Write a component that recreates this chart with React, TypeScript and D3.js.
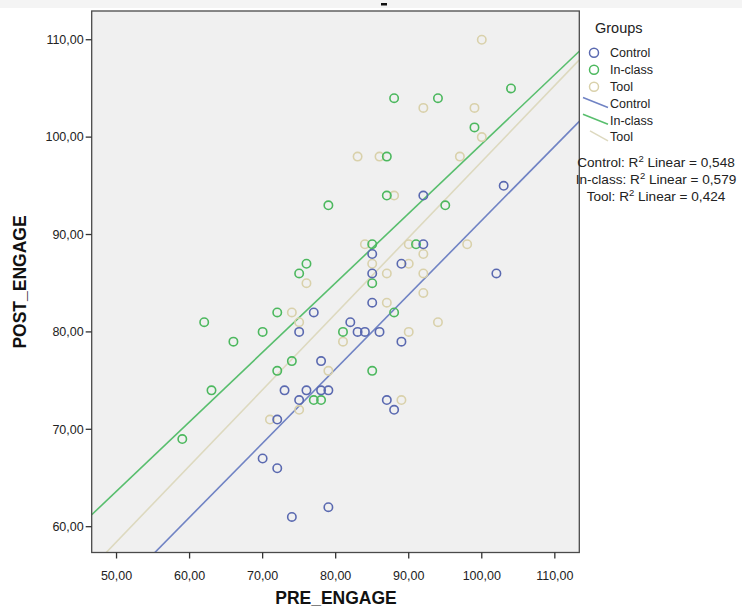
import * as d3 from "d3"
import React from "react"

const groups = ["Control", "In-class", "Tool"]
const controlPre = [92, 103, 92, 89, 85, 85, 102, 85, 77, 82, 75, 83, 84, 86, 89, 78, 73, 76, 78, 79, 75, 87, 88, 72, 70, 72, 79, 74]
const controlPost = [94, 95, 89, 87, 88, 86, 86, 83, 82, 81, 80, 80, 80, 80, 79, 77, 74, 74, 74, 74, 73, 73, 72, 71, 67, 66, 62, 61]
const inclassPre = [104, 88, 94, 99, 87, 79, 87, 95, 85, 91, 76, 75, 85, 72, 88, 62, 70, 81, 66, 74, 72, 85, 63, 77, 78, 59]
const inclassPost = [105, 104, 104, 101, 98, 93, 94, 93, 89, 89, 87, 86, 85, 82, 82, 81, 80, 80, 79, 77, 76, 76, 74, 73, 73, 69]
const toolPre = [100, 92, 99, 100, 83, 86, 97, 88, 84, 90, 98, 85, 90, 92, 87, 92, 76, 92, 87, 74, 75, 94, 90, 81, 79, 89, 75, 71]
const toolPost = [110, 103, 103, 100, 98, 98, 98, 94, 89, 89, 89, 87, 87, 88, 86, 86, 85, 84, 83, 82, 81, 81, 80, 79, 76, 73, 72, 71]
const fitSlope = [0.762, 0.713, 0.781]
const fitIntercept = [15.25, 28.0, 19.4]
const rSquared = ["0,548", "0,579", "0,424"]
const xTicks = [50, 60, 70, 80, 90, 100, 110]
const yTicks = [60, 70, 80, 90, 100, 110]

const pointColors = ["#5a69b0", "#4cb85e", "#d9d1ab"]
const lineColors = ["#7083c4", "#58be6d", "#ddd9bf"]
const font = "'Liberation Sans', Arial, sans-serif"

const W = 742
const H = 614
const plot = { left: 91.7, right: 579.3, top: 11, bottom: 552.5 }

export default function App() {
  const x = d3.scaleLinear().domain([46.6, 113.35]).range([plot.left, plot.right])
  const y = d3.scaleLinear().domain([57.35, 112.95]).range([plot.bottom, plot.top])
  const fmt = (v: number) => v.toFixed(2).replace(".", ",")

  const series = [
    { pre: controlPre, post: controlPost },
    { pre: inclassPre, post: inclassPost },
    { pre: toolPre, post: toolPost },
  ]
  const [x0, x1] = x.domain()

  return (
    <svg width={W} height={H} style={{ position: "absolute", left: 0, top: 0, background: "#fff" }} fontFamily={font}>
      <defs>
        <clipPath id="plotClip">
          <rect x={plot.left} y={plot.top} width={plot.right - plot.left} height={plot.bottom - plot.top} />
        </clipPath>
      </defs>
      {/* faint band at top of screenshot */}
      <rect x={0} y={0} width={W} height={8} fill="#f4f4f4" />
      <rect x={381} y={3} width={6} height={2.5} fill="#111" />

      <rect x={plot.left} y={plot.top} width={plot.right - plot.left} height={plot.bottom - plot.top} fill="#f0f0f0" />

      <g clipPath="url(#plotClip)">
        {series.map((s, g) => (
          <line
            key={"fit" + g}
            x1={x(x0)} y1={y(fitIntercept[g] + fitSlope[g] * x0)}
            x2={x(x1)} y2={y(fitIntercept[g] + fitSlope[g] * x1)}
            stroke={lineColors[g]} strokeWidth={1.6}
          />
        ))}
        {[2, 1, 0].map(g =>
          series[g].pre.map((p, i) => (
            <circle key={g + "-" + i} cx={x(p)} cy={y(series[g].post[i])} r={4.2}
              fill="none" stroke={pointColors[g]} strokeWidth={1.6} />
          ))
        )}
      </g>

      <rect x={plot.left} y={plot.top} width={plot.right - plot.left} height={plot.bottom - plot.top}
        fill="none" stroke="#4a4a4a" strokeWidth={1.3} />

      {yTicks.map(t => (
        <g key={"y" + t} transform={`translate(0,${y(t)})`}>
          <line x1={plot.left - 6} x2={plot.left} stroke="#333" strokeWidth={1.3} />
          <text x={plot.left - 8} dy="0.35em" textAnchor="end" fontSize={12.5} fill="#222">{fmt(t)}</text>
        </g>
      ))}
      {xTicks.map(t => (
        <g key={"x" + t} transform={`translate(${x(t)},0)`}>
          <line y1={plot.bottom} y2={plot.bottom + 6} stroke="#333" strokeWidth={1.3} />
          <text y={plot.bottom + 27} textAnchor="middle" fontSize={12.5} fill="#222">{fmt(t)}</text>
        </g>
      ))}

      <text x={336} y={604} textAnchor="middle" fontSize={17.5} fontWeight="bold" fill="#111">PRE_ENGAGE</text>
      <text transform={`translate(26,282) rotate(-90)`} textAnchor="middle" fontSize={17.5} fontWeight="bold" fill="#111">POST_ENGAGE</text>

      {/* legend */}
      <text x={595} y={33} fontSize={14.5} fill="#222">Groups</text>
      {groups.map((name, g) => (
        <g key={"lp" + g} transform={`translate(594,${52.7 + g * 17})`}>
          <circle r={4.5} fill="none" stroke={pointColors[g]} strokeWidth={1.5} />
          <text x={16} dy="0.35em" fontSize={12.5} fill="#222">{name}</text>
        </g>
      ))}
      {groups.map((name, g) => (
        <g key={"ll" + g} transform={`translate(594,${103.5 + g * 16.7})`}>
          <line x1={g === 2 ? -4 : -11} y1={-6} x2={14} y2={4} stroke={lineColors[g]} strokeWidth={1.5} />
          <text x={16} dy="0.35em" fontSize={12.5} fill="#222">{name}</text>
        </g>
      ))}
      {groups.map((name, g) => (
        <text key={"r" + g} x={656} y={167 + g * 17} textAnchor="middle" fontSize={13.6} fill="#222">
          {name}: R<tspan fontSize={9.5} dy={-5}>2</tspan><tspan dy={5}> Linear = {rSquared[g]}</tspan>
        </text>
      ))}
    </svg>
  )
}
